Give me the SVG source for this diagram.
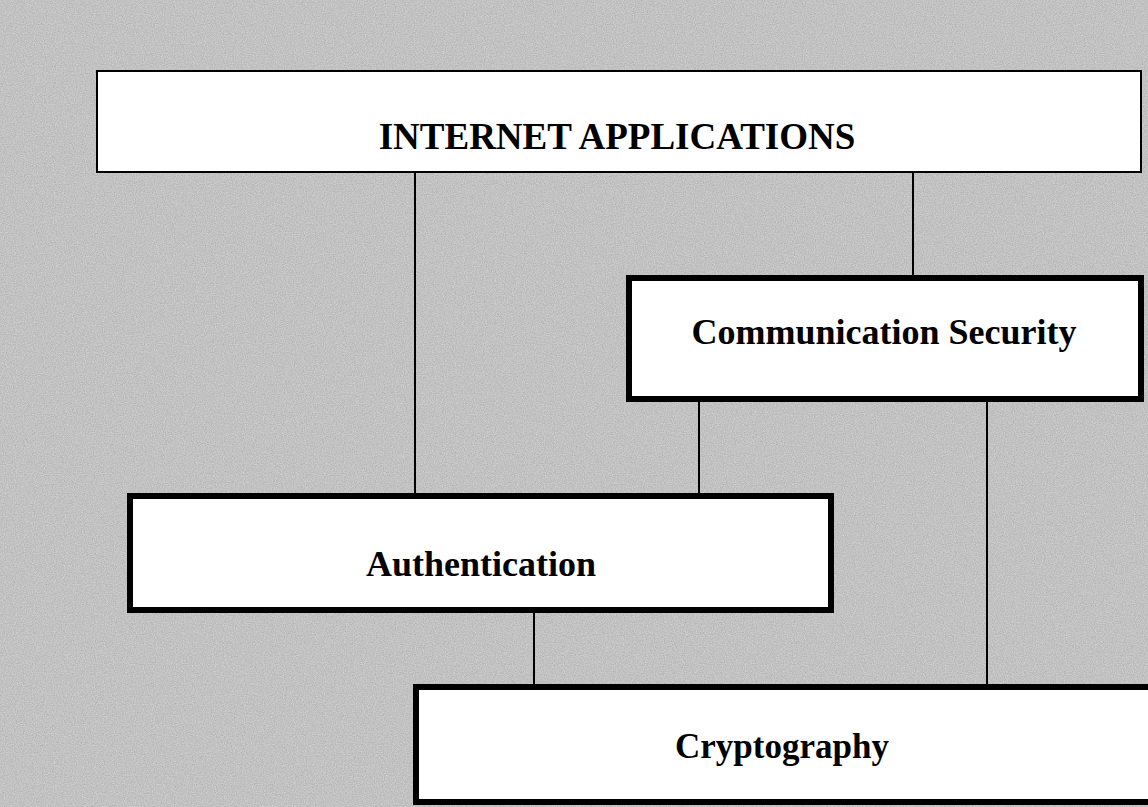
<svg xmlns="http://www.w3.org/2000/svg" width="1148" height="807" viewBox="0 0 1148 807">
  <style>
    .box { fill: #ffffff; stroke: #000000; }
    .thin { stroke-width: 2; }
    .thick { stroke-width: 6; }
    .label { font-family: "Liberation Serif", "Times New Roman", serif; font-weight: bold; fill: #000000; text-anchor: middle; }
    .link { stroke: #000000; stroke-width: 2; fill: none; }
  </style>
  <defs>
    <filter id="grain" x="0" y="0" width="100%" height="100%">
      <feTurbulence type="fractalNoise" baseFrequency="0.9" numOctaves="2" seed="7" result="noise"/>
      <feColorMatrix type="matrix" in="noise" values="0 0 0 0 0  0 0 0 0 0  0 0 0 0 0  0 0 0 0.4 0" result="dark"/>
      <feComposite in="dark" in2="SourceGraphic" operator="over"/>
    </filter>
  </defs>

  <!-- textured grey backdrop -->
  <rect x="0" y="0" width="1148" height="807" fill="#d6d6d6" filter="url(#grain)"/>

  <!-- connectors between layers -->
  <g id="connectors">
    <line class="link" x1="415" y1="172" x2="415" y2="494"/>
    <line class="link" x1="913" y1="172" x2="913" y2="276"/>
    <line class="link" x1="699" y1="401" x2="699" y2="494"/>
    <line class="link" x1="987" y1="401" x2="987" y2="685"/>
    <line class="link" x1="534" y1="612" x2="534" y2="685"/>
  </g>

  <g id="internet-applications">
    <rect class="box thin" x="97" y="71" width="1044" height="101"/>
    <text class="label" x="617" y="149" font-size="37">INTERNET APPLICATIONS</text>
  </g>

  <g id="communication-security">
    <rect class="box thick" x="629" y="278" width="512" height="121"/>
    <text class="label" x="884" y="344" font-size="36">Communication Security</text>
  </g>

  <g id="authentication">
    <rect class="box thick" x="130" y="496" width="701" height="114"/>
    <text class="label" x="481" y="576" font-size="36">Authentication</text>
  </g>

  <g id="cryptography">
    <rect class="box thick" x="416" y="687" width="740" height="115"/>
    <text class="label" x="782" y="758" font-size="35">Cryptography</text>
  </g>
</svg>
